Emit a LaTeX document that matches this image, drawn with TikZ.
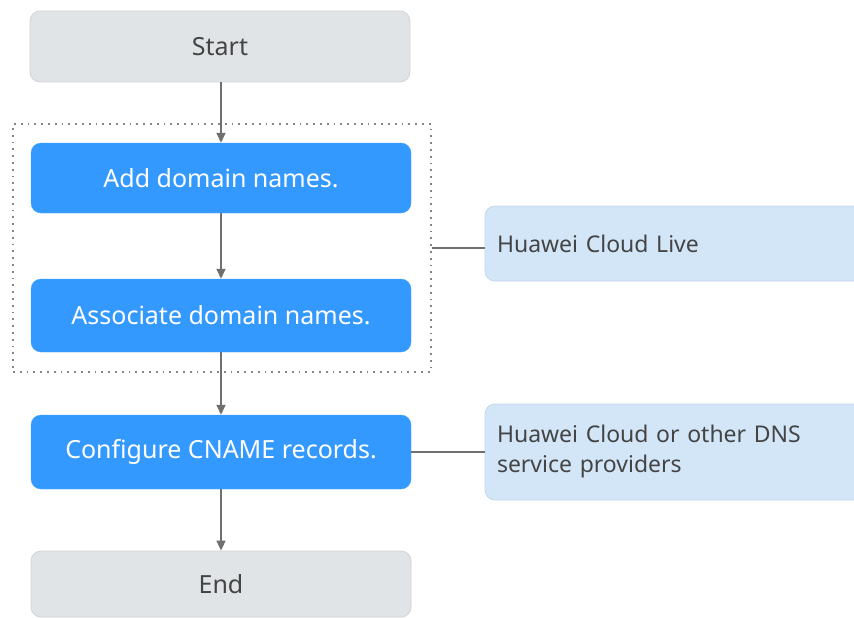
\documentclass[tikz,border=0pt]{standalone}
\usepackage{fontspec}
\setmainfont{Noto Sans}
\usetikzlibrary{arrows.meta}
\definecolor{grayfill}{HTML}{E1E4E6}
\definecolor{grayline}{HTML}{D0D3D6}
\definecolor{bluefill}{HTML}{3399FF}
\definecolor{lightfill}{HTML}{D3E6F8}
\definecolor{lightline}{HTML}{C4D6EA}
\definecolor{txt}{HTML}{444444}
\definecolor{conn}{HTML}{707070}
\tikzset{
  box/.style={rectangle, rounded corners=10pt, minimum width=380pt, inner sep=0pt, font=\fontsize{25}{29}\selectfont},
  graybox/.style={box, fill=grayfill, draw=grayline, line width=0.8pt, text=txt},
  bluebox/.style={box, fill=bluefill, draw=bluefill!90!white, text=white},
  notebox/.style={rectangle, rounded corners=10pt, fill=lightfill, draw=lightline, line width=0.8pt, minimum width=385pt, text width=361pt, align=left, inner sep=12pt, text=txt, font=\fontsize{23}{30}\selectfont},
  flow/.style={draw=conn, line width=1.6pt, -{Triangle[length=10pt,width=9pt]}},
  link/.style={draw=conn, line width=1.4pt},
  groupbox/.style={draw=conn!85, line width=1.8pt, dash pattern=on 1.8pt off 5pt, minimum width=418pt, minimum height=248pt, inner sep=0pt},
}
\begin{document}
\begin{tikzpicture}[x=1pt,y=-1pt]
\useasboundingbox (0,0) rectangle (854,618);
\clip (0,0) rectangle (854,618);
\node[graybox, minimum height=71pt] (start) at (220,46.5) {Start};
\node[bluebox, minimum height=70pt] (add) at (221,178) {Add domain names.};
\node[bluebox, minimum height=73pt] (assoc) at (221,315.5) {Associate domain names.};
\node[bluebox, minimum height=74pt] (cname) at (221,452) {Configure CNAME records.};
\node[graybox, minimum height=66pt] (end) at (221,584) {End};
\node[groupbox] (grp) at (222,248) {};
\node[notebox, minimum height=75pt] (live) at (677.5,243.5) {Huawei Cloud Live};
\node[notebox, minimum height=96pt] (dns) at (677.5,452) {Huawei Cloud or other DNS\\service providers};
\draw[flow] (start.south -| add.north) -- (add.north);
\draw[flow] (add) -- (assoc);
\draw[flow] (assoc) -- (cname);
\draw[flow] (cname) -- (end);
\draw[link] (grp.east) -- (grp.east -| live.west);
\draw[link] (cname.east) -- (dns.west |- cname.east);
\end{tikzpicture}
\end{document}
